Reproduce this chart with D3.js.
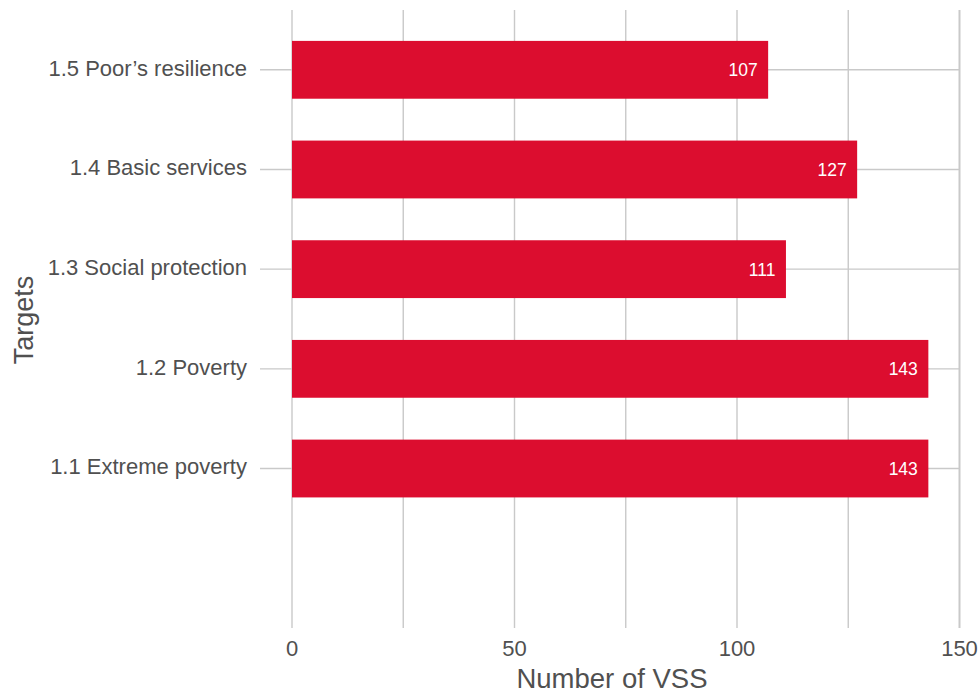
<!DOCTYPE html>
<html>
<head>
<meta charset="utf-8">
<script src="https://cdn.jsdelivr.net/npm/d3@7"></script>
<style>
  html, body { margin: 0; padding: 0; background: #fff; }
  svg { display: block; }
  svg text { font-family: Arial, "Liberation Sans", Helvetica, sans-serif; }
</style>
</head>
<body>
<svg id="chart" width="979" height="694"></svg>
<script>
const categories = ["1.1 Extreme poverty", "1.2 Poverty", "1.3 Social protection", "1.4 Basic services", "1.5 Poor\u2019s resilience"];
const values = [143, 143, 111, 127, 107];
const xTicks = [0, 50, 100, 150];
const xGrid = [0, 25, 50, 75, 100, 125, 150];
const xTitle = "Number of VSS";
const yTitle = "Targets";

const svg = d3.select("#chart");
const x = d3.scaleLinear().domain([0, 150]).range([292, 959.5]);
const y = d3.scaleLinear().domain([-1.6, 4.6]).range([628, 10]);
const barH = 0.58 * (y(0) - y(1));
const gridColor = "#c9c9c9";
const textColor = "#505050";
const barColor = "#dc0d2f";

// vertical gridlines
svg.append("g").selectAll("line").data(xGrid).join("line")
  .attr("x1", d => x(d)).attr("x2", d => x(d))
  .attr("y1", y.range()[1]).attr("y2", y.range()[0])
  .attr("stroke", gridColor).attr("stroke-width", d => d === 150 ? 2 : 1.4);

// horizontal gridlines (with tick extension)
svg.append("g").selectAll("line").data(categories).join("line")
  .attr("x1", 260).attr("x2", x(150))
  .attr("y1", (d, i) => y(i)).attr("y2", (d, i) => y(i))
  .attr("stroke", gridColor).attr("stroke-width", 1.4);

// bars
svg.append("g").selectAll("rect").data(values).join("rect")
  .attr("x", x(0)).attr("width", d => x(d) - x(0))
  .attr("y", (d, i) => y(i) - barH / 2).attr("height", barH)
  .attr("fill", barColor);

// value labels
svg.append("g").selectAll("text").data(values).join("text")
  .attr("x", d => x(d) - 10.5).attr("y", (d, i) => y(i) + 2)
  .attr("text-anchor", "end").attr("dominant-baseline", "middle")
  .attr("fill", "#fff").attr("font-size", 17.5)
  .text(d => d);

// y tick labels
svg.append("g").selectAll("text").data(categories).join("text")
  .attr("x", 247).attr("y", (d, i) => y(i))
  .attr("text-anchor", "end").attr("dominant-baseline", "middle")
  .attr("fill", textColor).attr("font-size", 22)
  .text(d => d);

// x tick labels
svg.append("g").selectAll("text").data(xTicks).join("text")
  .attr("x", d => x(d)).attr("y", 650)
  .attr("text-anchor", "middle").attr("dominant-baseline", "middle")
  .attr("fill", textColor).attr("font-size", 22)
  .text(d => d);

// axis titles
svg.append("text")
  .attr("x", 612).attr("y", 688)
  .attr("text-anchor", "middle")
  .attr("fill", textColor).attr("font-size", 27.5)
  .text(xTitle);

svg.append("text")
  .attr("transform", "translate(33,320) rotate(-90)")
  .attr("text-anchor", "middle")
  .attr("fill", textColor).attr("font-size", 27)
  .text(yTitle);
</script>
</body>
</html>
